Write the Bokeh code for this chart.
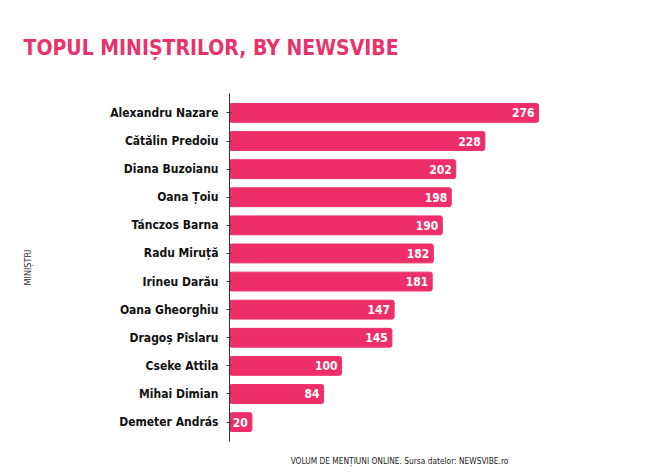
from bokeh.plotting import figure
from bokeh.models import ColumnDataSource, FactorRange, Range1d, LabelSet, Title, FixedTicker
from bokeh.embed import file_html
from bokeh.resources import INLINE
from bokeh.core.properties import value

names = ["Alexandru Nazare", "Cătălin Predoiu", "Diana Buzoianu", "Oana Țoiu",
         "Tánczos Barna", "Radu Miruță", "Irineu Darău", "Oana Gheorghiu",
         "Dragoș Pîslaru", "Cseke Attila", "Mihai Dimian", "Demeter András"]
mentions = [276, 228, 202, 198, 190, 182, 181, 147, 145, 100, 84, 20]
title_text = "TOPUL MINIȘTRILOR, BY NEWSVIBE"

PINK = "#ee2e6a"
FONT = "DejaVu Sans Condensed"

src = ColumnDataSource(dict(name=names, v=mentions, lbl=[str(x) for x in mentions]))

p = figure(width=668, height=475, output_backend="svg", toolbar_location=None,
           y_range=FactorRange(factors=names[::-1], range_padding=0.19,
                               range_padding_units="absolute"),
           x_range=Range1d(0, 303.6),
           min_border_left=229, min_border_right=99, min_border_top=93,
           min_border_bottom=34)

p.hbar(y="name", right="v", left=0, height=0.67, source=src, color=PINK,
       border_radius=2)

labels = LabelSet(x="v", y="name", text="lbl", source=src, x_offset=-4,
                  text_align="right", text_baseline="middle",
                  text_color="white", text_font=value(FONT),
                  text_font_style="bold", text_font_size="12px")
p.add_layout(labels)

p.title = Title(text=title_text, align="left",
                text_color="#e8336a", text_font=FONT, text_font_style="bold",
                text_font_size="21px", offset=-206, standoff=67)

p.xgrid.visible = False
p.ygrid.visible = False
p.outline_line_color = None
p.background_fill_color = "white"
p.border_fill_color = "white"

xa = p.xaxis[0]
xa.ticker = FixedTicker(ticks=[])
xa.axis_line_color = None
xa.major_tick_line_color = None
xa.minor_tick_line_color = None
xa.major_label_text_font_size = "8px"
xa.axis_label = "VOLUM DE MENȚIUNI ONLINE. Sursa datelor: NEWSVIBE.ro"
xa.axis_label_text_font = FONT
xa.axis_label_text_font_style = "normal"
xa.axis_label_text_font_size = "8.3px"
xa.axis_label_text_color = "#222222"
xa.axis_label_standoff = 14

ya = p.yaxis[0]
ya.axis_line_color = "#333333"
ya.major_tick_line_color = "#333333"
ya.major_tick_out = 3
ya.major_tick_in = 2
ya.major_label_standoff = 8
ya.major_label_text_font = FONT
ya.major_label_text_font_style = "bold"
ya.major_label_text_font_size = "12px"
ya.major_label_text_color = "#111111"
ya.axis_label = "MINIȘTRI"
ya.axis_label_text_font = FONT
ya.axis_label_text_font_style = "normal"
ya.axis_label_text_font_size = "9px"
ya.axis_label_text_color = "#333333"
ya.axis_label_standoff = 74

open("out.html", "w").write(file_html(p, INLINE))
